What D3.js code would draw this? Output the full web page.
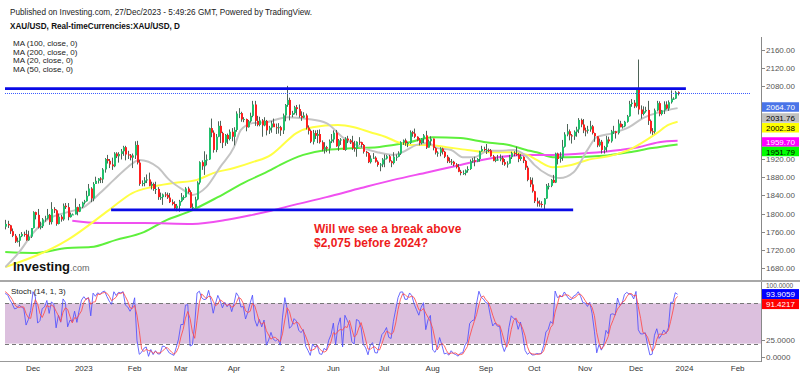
<!DOCTYPE html>
<html><head><meta charset="utf-8">
<script src="https://cdn.jsdelivr.net/npm/d3@7"></script>
<style>html,body{margin:0;background:#fff}svg{display:block}</style>
</head><body><svg id="c" width="800" height="376"></svg>
<script>
// ---------- DATA ----------
const firstDay = "2022-10-24"; // first bar (weekdays follow); bars before 15 Nov are off-chart warm-up for the stochastic
// [open, high, low, close] daily XAU/USD
const candles = [
[1656,1675,1638,1649],[1649,1659,1640,1653],[1653,1671,1651,1665],[1665,1670,1656,1663],[1663,1664,1640,1645],
[1645,1651,1626,1633],[1633,1655,1633,1647],[1647,1669,1635,1636],[1636,1638,1616,1630],[1630,1682,1628,1681],
[1681,1683,1664,1676],[1676,1717,1671,1712],[1712,1723,1700,1706],[1706,1757,1702,1755],[1755,1770,1742,1771],
[1771,1776,1754,1771],[1771,1786,1765,1777],[1777,1784,1768,1774],[1774,1775,1755,1761],[1761,1767,1748,1751],
[1751,1755,1735,1738],[1738,1747,1736,1740],[1740,1755,1727,1750],[1750,1759,1748,1755],[1755,1760,1749,1754],
[1754,1764,1740,1741],[1741,1762,1740,1749],[1749,1768,1746,1768],
// Dec 2022
[1768,1805,1767,1803],[1803,1804,1787,1797],[1797,1810,1767,1769],[1769,1782,1765,1772],[1772,1790,1768,1787],
[1787,1795,1782,1789],[1789,1810,1787,1797],[1797,1799,1775,1781],[1781,1825,1776,1810],[1810,1814,1801,1807],
[1807,1809,1773,1777],[1777,1800,1776,1793],[1793,1797,1782,1787],[1787,1822,1784,1817],[1817,1823,1810,1814],
[1814,1823,1785,1792],[1792,1802,1791,1798],[1798,1800,1797,1798],[1798,1833,1798,1814],[1814,1815,1796,1804],
[1804,1821,1803,1815],[1815,1826,1812,1824],
// Jan 2023
[1824,1830,1820,1827],[1827,1850,1826,1839],[1839,1865,1838,1855],[1855,1858,1825,1833],[1833,1869,1827,1865],
[1865,1881,1865,1872],[1872,1878,1866,1877],[1877,1880,1867,1875],[1875,1900,1867,1897],[1897,1922,1890,1920],
[1920,1929,1910,1916],[1916,1920,1900,1908],[1908,1923,1896,1904],[1904,1935,1902,1932],[1932,1935,1922,1926],
[1926,1935,1912,1931],[1931,1942,1919,1937],[1937,1949,1927,1946],[1946,1949,1917,1930],[1930,1938,1920,1928],
[1928,1931,1917,1923],[1923,1932,1900,1928],
// Feb 2023
[1928,1959,1920,1951],[1951,1960,1908,1912],[1912,1918,1861,1865],[1865,1873,1860,1867],[1867,1880,1860,1873],
[1873,1886,1867,1875],[1875,1890,1860,1861],[1861,1870,1853,1865],[1865,1868,1850,1854],[1854,1870,1843,1854],
[1854,1858,1830,1836],[1836,1846,1830,1836],[1836,1844,1819,1842],[1842,1847,1836,1841],[1841,1846,1832,1835],
[1835,1845,1823,1825],[1825,1831,1818,1821],[1821,1827,1809,1811],[1811,1821,1805,1817],[1817,1830,1804,1827],
// Mar 2023
[1827,1845,1825,1836],[1836,1840,1830,1836],[1836,1858,1835,1855],[1855,1859,1844,1847],[1847,1851,1812,1813],
[1813,1822,1810,1814],[1814,1837,1813,1831],[1831,1871,1829,1868],[1868,1915,1864,1913],[1913,1917,1896,1904],
[1904,1937,1885,1918],[1918,1930,1906,1919],[1919,1989,1918,1988],[1988,2009,1968,1978],[1978,1983,1934,1940],
[1940,1975,1935,1969],[1969,2003,1968,1993],[1993,2004,1955,1977],[1977,1980,1944,1956],[1956,1975,1949,1973],
[1973,1976,1953,1964],[1964,1985,1961,1980],[1980,1988,1959,1969],
// Apr 2023
[1969,1990,1950,1984],[1984,2025,1980,2020],[2020,2032,2010,2021],[2021,2024,2002,2007],[2007,2012,2001,2008],
[2008,2009,1981,1990],[1990,2006,1989,2003],[2003,2022,2000,2015],[2015,2048,2012,2040],[2040,2048,1993,2004],
[2004,2015,1992,1995],[1995,2013,1992,2005],[2005,2008,1969,1994],[1994,2012,1992,2004],[2004,2006,1972,1983],
[1983,1993,1975,1989],[1989,2004,1978,1998],[1998,2009,1991,1990],[1990,1998,1975,1988],[1988,1999,1976,1990],
// May 2023
[1990,1993,1971,1983],[1983,2020,1975,2016],[2016,2041,2003,2039],[2039,2081,2035,2050],[2050,2055,2005,2017],
[2017,2026,2012,2021],[2021,2037,2018,2034],[2034,2039,2016,2030],[2030,2040,2011,2015],[2015,2025,2004,2011],
[2011,2023,2010,2016],[2016,2020,1985,1989],[1989,1994,1974,1982],[1982,1985,1955,1958],[1958,1984,1952,1977],
[1977,1983,1964,1971],[1971,1984,1955,1975],[1975,1985,1954,1957],[1957,1961,1937,1941],[1941,1957,1932,1946],
[1946,1949,1935,1943],[1943,1963,1932,1959],[1959,1975,1955,1963],
// Jun 2023
[1963,1983,1956,1978],[1978,1984,1947,1948],[1948,1964,1938,1961],[1961,1966,1951,1963],[1963,1964,1940,1940],
[1940,1968,1938,1965],[1965,1971,1955,1961],[1961,1964,1953,1957],[1957,1971,1940,1944],[1944,1960,1936,1942],
[1942,1959,1925,1958],[1958,1968,1951,1957],[1957,1958,1945,1951],[1951,1953,1932,1936],[1936,1938,1925,1933],
[1933,1935,1911,1913],[1913,1928,1910,1921],[1921,1933,1920,1923],[1923,1926,1912,1914],[1914,1917,1903,1907],
[1907,1911,1893,1908],[1908,1922,1902,1919],
// Jul 2023
[1919,1930,1902,1921],[1921,1929,1919,1926],[1926,1929,1912,1915],[1915,1917,1902,1911],[1911,1935,1908,1925],
[1925,1930,1916,1925],[1925,1937,1924,1932],[1932,1959,1929,1957],[1957,1963,1951,1961],[1961,1965,1949,1955],
[1955,1958,1946,1955],[1955,1983,1953,1979],[1979,1982,1969,1976],[1976,1987,1966,1969],[1969,1970,1959,1962],
[1962,1966,1950,1955],[1955,1966,1952,1965],[1965,1975,1955,1972],[1972,1982,1942,1945],[1945,1963,1945,1959],
[1959,1970,1950,1965],
// Aug 2023
[1965,1965,1939,1944],[1944,1946,1930,1934],[1934,1937,1925,1934],[1934,1946,1926,1943],[1943,1945,1930,1936],
[1936,1938,1922,1925],[1925,1929,1911,1915],[1915,1923,1911,1913],[1913,1920,1907,1914],[1914,1916,1904,1908],
[1908,1911,1899,1902],[1902,1909,1891,1892],[1892,1896,1884,1889],[1889,1895,1885,1889],[1889,1897,1884,1895],
[1895,1904,1890,1898],[1898,1919,1896,1915],[1915,1922,1912,1917],[1917,1925,1904,1914],[1914,1922,1913,1920],
[1920,1938,1914,1937],[1937,1949,1936,1942],[1942,1947,1937,1940],
// Sep 2023
[1940,1953,1931,1940],[1940,1943,1935,1939],[1939,1942,1925,1926],[1926,1929,1915,1916],[1916,1924,1913,1919],
[1919,1929,1916,1919],[1919,1930,1915,1922],[1922,1927,1907,1913],[1913,1920,1905,1908],[1908,1915,1901,1910],
[1910,1929,1910,1924],[1924,1936,1920,1933],[1933,1937,1926,1931],[1931,1947,1927,1930],[1930,1933,1913,1920],
[1920,1931,1916,1925],[1925,1926,1911,1916],[1916,1918,1896,1901],[1901,1905,1871,1874],[1874,1880,1858,1864],
[1864,1879,1846,1849],
// Oct 2023
[1849,1850,1823,1827],[1827,1835,1815,1822],[1822,1829,1815,1821],[1821,1827,1813,1820],[1820,1834,1810,1833],
[1833,1865,1832,1861],[1861,1867,1853,1861],[1861,1876,1858,1874],[1874,1885,1867,1868],[1868,1934,1867,1932],
[1932,1934,1908,1920],[1920,1935,1912,1923],[1923,1962,1916,1947],[1947,1979,1945,1974],[1974,1997,1970,1981],
[1981,1985,1961,1972],[1972,1975,1954,1970],[1970,1983,1962,1980],[1980,1991,1969,1985],[1985,2010,1977,2006],
[2006,2009,1990,1996],[1996,2008,1977,1983],
// Nov 2023
[1983,1989,1970,1982],[1982,1993,1976,1985],[1985,2004,1980,1992],[1992,1995,1974,1977],[1977,1978,1958,1970],
[1970,1970,1946,1950],[1950,1965,1947,1958],[1958,1962,1932,1940],[1940,1949,1932,1946],[1946,1971,1936,1963],
[1963,1969,1954,1959],[1959,1984,1956,1981],[1981,1993,1975,1981],[1981,1982,1965,1977],[1977,2007,1974,1998],
[1998,2004,1990,1990],[1990,1997,1987,1992],[1992,2004,1990,2002],[2002,2017,2000,2014],[2014,2048,2013,2041],
[2041,2052,2035,2044],[2044,2050,2032,2036],
// Dec 2023
[2036,2075,2033,2072],[2072,2139,2018,2029],[2029,2038,2009,2019],[2019,2036,2016,2025],[2025,2035,2022,2028],
[2028,2048,1995,2004],[2004,2007,1976,1981],[1981,1988,1973,1980],[1980,2031,1976,2027],[2027,2048,2025,2043],
[2043,2047,2014,2019],[2019,2028,2016,2027],[2027,2047,2019,2040],[2040,2047,2029,2031],[2031,2049,2026,2045],
[2045,2071,2042,2053],[2053,2056,2050,2053],[2053,2070,2052,2067],[2067,2069,2060,2064.7]
];
// moving averages: [trading day (0 = 1 Dec 2022), value]
const ma20 = [[-12,1682],[-6,1715],[0,1757],[6,1786],[15,1803],[22,1814],[29,1845],[35,1874],[41,1902],[46,1918],[54,1902],[59,1874],[65,1852],[69,1841],[75,1858],[81,1902],[87,1946],[90,1984],[95,1999],[101,2001],[110,2012],[119,2008],[127,1999],[134,1968],[142,1946],[149,1935],[156,1929],[160,1935],[166,1951],[171,1955],[175,1944],[181,1940],[186,1924],[191,1924],[197,1938],[202,1938],[208,1940],[214,1924],[217,1907],[223,1885],[228,1878],[234,1891],[240,1940],[244,1968],[251,1977],[258,1990],[264,2010],[271,2023],[279,2032]];
const ma50 = [[-12,1682],[15,1742],[33,1808],[43,1845],[51,1858],[61,1867],[71,1874],[78,1889],[87,1900],[95,1913],[103,1929],[107,1946],[114,1977],[121,1990],[132,1995],[139,1990],[146,1979],[153,1968],[158,1957],[163,1951],[171,1951],[179,1946],[188,1940],[197,1935],[207,1935],[214,1929],[218,1918],[225,1902],[233,1907],[240,1918],[250,1927],[258,1940],[264,1957],[270,1977],[275,1995],[279,2002]];
const ma100 = [[-12,1715],[0,1713],[15,1724],[25,1726],[36,1742],[48,1759],[58,1786],[67,1803],[80,1836],[91,1867],[103,1896],[107,1907],[117,1929],[127,1940],[139,1944],[149,1946],[156,1951],[163,1957],[173,1968],[185,1966],[196,1957],[206,1951],[215,1938],[218,1935],[225,1924],[232,1924],[247,1927],[258,1935],[268,1944],[279,1952]];
const ma200 = [[17,1784],[29,1779],[48,1779],[69,1777],[84,1786],[95,1797],[103,1806],[113,1819],[127,1836],[142,1856],[156,1874],[171,1891],[185,1907],[199,1922],[214,1929],[225,1929],[240,1933],[254,1940],[262,1946],[271,1957],[279,1960]];
const maLegend = ["MA (100, close, 0)","MA (200, close, 0)","MA (20, close, 0)","MA (50, close, 0)"];
// drawn horizontal lines: [price, from trading day, to trading day]
const hLines = [[2075,-13,282.6],[1808,33.8,233.8]];
const lastPrice = 2064.7;
const priceTicks = [2160,2120,2080,1920,1880,1840,1800,1760,1720,1680];
const priceTags = [["2064.70","#4a74e8","#fff"],["2031.76","#c0c0c0","#000"],["2002.38","#ffff00","#000"],["1959.70","#ff00ff","#fff"],["1951.79","#00ff00","#000"]];
const stochTicks = [100,25,0];
const stochTags = [["93.9059","#0000ff","#fff"],["91.4217","#ff0000","#fff"]];
const stochBand = [20,80];
const timeTicks = [["2022-12-01","Dec"],["2023-01-02","2023"],["2023-02-01","Feb"],["2023-03-01","Mar"],["2023-04-03","Apr"],["2023-05-02","2"],["2023-06-01","Jun"],["2023-07-03","Jul"],["2023-08-01","Aug"],["2023-09-01","Sep"],["2023-10-02","Oct"],["2023-11-01","Nov"],["2023-12-01","Dec"],["2024-01-01","2024"],["2024-02-01","Feb"]];
const header = "Published on Investing.com, 27/Dec/2023 - 5:49:26 GMT, Powered by TradingView.";
const title = "XAU/USD, Real-timeCurrencies:XAU/USD, D";
const note = ["Will we see a break above","$2,075 before 2024?"];

// ---------- CHART ----------
const FONT = '"Liberation Sans", Arial, sans-serif';
const svg = d3.select("#c").style("font-family", FONT);
const parse = d3.timeParse("%Y-%m-%d");
const base = parse("2022-12-01");
const isWd = d => d.getDay() > 0 && d.getDay() < 6;
function tday(date) {
  if (date >= base) return d3.timeDay.range(base, date).filter(isWd).length;
  return -d3.timeDay.range(date, base).filter(isWd).length;
}
const dates = [];
{ let d = parse(firstDay); while (dates.length < candles.length) { if (isWd(d)) dates.push(d); d = d3.timeDay.offset(d, 1); } }
const bars = candles.map((c, i) => ({ t: tday(dates[i]), o: c[0], h: c[1], l: c[2], c: c[3] }));

const L = 5, R = 761;
const x = d3.scaleLinear().domain([0, 261]).range([33, 636]);
const y = d3.scaleLinear().domain([1680, 2160]).range([268, 50]);
const ys = d3.scaleLinear().domain([0, 100]).range([357, 290]);
// the axis tags sit on a compressed stack beside the price scale
const yTag = d3.scaleLinear().domain([2064.7, 1959.7]).range([107, 142]);

const defs = svg.append("defs");
defs.append("clipPath").attr("id", "cp").append("rect").attr("x", L).attr("y", 36).attr("width", R - L).attr("height", 244);
defs.append("clipPath").attr("id", "cs").append("rect").attr("x", L).attr("y", 283).attr("width", R - L).attr("height", 77);

// header texts
svg.append("text").attr("x", 10).attr("y", 15).attr("font-size", 9).attr("fill", "#222").attr("textLength", 302).attr("lengthAdjust", "spacingAndGlyphs").text(header);
svg.append("text").attr("x", 10).attr("y", 29).attr("font-size", 8.8).attr("font-weight", "bold").attr("fill", "#111").attr("textLength", 170).attr("lengthAdjust", "spacingAndGlyphs").text(title);
svg.append("g").selectAll("text").data(maLegend).join("text")
  .attr("x", 13).attr("y", (d, i) => 46 + i * 8.7).attr("font-size", 8).attr("fill", "#222").text(d => d);

// price panel
const gp = svg.append("g").attr("clip-path", "url(#cp)");
const maLine = d3.line().x(d => x(d[0])).y(d => y(d[1])).curve(d3.curveMonotoneX);
[[ma100, "#5ef03c"], [ma200, "#f050f0"], [ma50, "#ffff44"], [ma20, "#c4c4c4"]].forEach(([a, col]) =>
  gp.append("path").attr("d", maLine(a)).attr("fill", "none").attr("stroke", col).attr("stroke-width", 2));

// candles
const cg = gp.append("g");
cg.selectAll("line").data(bars).join("line")
  .attr("x1", d => Math.round(x(d.t)) + 0.5).attr("x2", d => Math.round(x(d.t)) + 0.5)
  .attr("y1", d => y(d.h)).attr("y2", d => y(d.l)).attr("stroke", "#4e6357").attr("stroke-width", 1);
cg.selectAll("rect").data(bars).join("rect")
  .attr("x", d => Math.round(x(d.t)))
  .attr("width", 2)
  .attr("y", d => y(Math.max(d.o, d.c)))
  .attr("height", d => Math.max(1, Math.abs(y(d.o) - y(d.c))))
  .attr("fill", d => d.c >= d.o ? "#20c06c" : "#ff1e1e");

// horizontal drawings
gp.selectAll("line.h").data(hLines).join("line").attr("class", "h")
  .attr("x1", d => x(d[1])).attr("x2", d => x(d[2])).attr("y1", d => y(d[0])).attr("y2", d => y(d[0]))
  .attr("stroke", "#0a0ae6").attr("stroke-width", 2.6);
svg.append("line").attr("x1", L).attr("x2", 750).attr("y1", Math.round(y(lastPrice)) + 0.5).attr("y2", Math.round(y(lastPrice)) + 0.5)
  .attr("stroke", "#3b5cff").attr("stroke-width", 1).attr("stroke-dasharray", "1,1");

// annotation
svg.append("g").selectAll("text").data(note).join("text")
  .attr("x", 314).attr("y", (d, i) => 232.5 + i * 14).attr("font-size", 12).attr("font-weight", "bold").attr("fill", "#ee1c1c").text(d => d);

// logo
const logo = svg.append("text").attr("x", 13).attr("y", 271).attr("font-size", 13).attr("font-weight", "bold").attr("fill", "#111");
logo.append("tspan").text("Investing");
logo.append("tspan").attr("font-size", 9).attr("font-weight", "normal").attr("fill", "#666").text(".com");

// axes frame
svg.append("line").attr("x1", R + 0.5).attr("x2", R + 0.5).attr("y1", 37).attr("y2", 362).attr("stroke", "#888");
svg.append("line").attr("x1", 0).attr("x2", 800).attr("y1", 281).attr("y2", 281).attr("stroke", "#a8a8a8").attr("stroke-width", 2);
svg.append("line").attr("x1", 0).attr("x2", R).attr("y1", 361.5).attr("y2", 361.5).attr("stroke", "#999");

// price axis
const pa = svg.append("g");
pa.selectAll("line").data(priceTicks).join("line").attr("x1", R).attr("x2", R + 4).attr("y1", d => Math.round(y(d)) + 0.5).attr("y2", d => Math.round(y(d)) + 0.5).attr("stroke", "#888");
pa.selectAll("text").data(priceTicks).join("text").attr("x", 766).attr("y", d => y(d) + 3).attr("font-size", 8).attr("fill", "#555").text(d => d3.format(".2f")(d));

function tags(g, list, scale, h) {
  let prev = -1e9;
  list.forEach(([txt, bg, fg]) => {
    let cy = Math.max(scale(+txt), prev + h);
    prev = cy;
    g.append("rect").attr("x", R + 1).attr("y", cy - h / 2).attr("width", 37).attr("height", h).attr("fill", bg);
    g.append("text").attr("x", 766).attr("y", cy + 3).attr("font-size", 8).attr("fill", fg).text(txt);
  });
}
tags(svg.append("g"), priceTags, yTag, 9.5);

// time axis
const ta = svg.append("g");
ta.selectAll("text").data(timeTicks).join("text").attr("x", d => x(tday(parse(d[0])))).attr("y", 371)
  .attr("text-anchor", "middle").attr("font-size", 8).attr("fill", "#333").text(d => d[1]);

// stochastic (14,1,3) computed from the candles
const K = bars.map((b, i) => {
  if (i < 13) return null;
  const w = bars.slice(i - 13, i + 1), hh = d3.max(w, d => d.h), ll = d3.min(w, d => d.l);
  return 100 * (b.c - ll) / (hh - ll);
});
const D = K.map((k, i) => (i < 15 ? null : (K[i] + K[i - 1] + K[i - 2]) / 3));
const gs = svg.append("g").attr("clip-path", "url(#cs)");
gs.append("rect").attr("x", L).attr("width", R - L).attr("y", ys(stochBand[1])).attr("height", ys(stochBand[0]) - ys(stochBand[1])).attr("fill", "#dcc0de");
gs.selectAll("line").data(stochBand).join("line").attr("x1", L).attr("x2", R).attr("y1", d => Math.round(ys(d)) + 0.5).attr("y2", d => Math.round(ys(d)) + 0.5)
  .attr("stroke", "#777").attr("stroke-dasharray", "4,3");
const sLine = arr => d3.line().defined((d, i) => arr[i] != null).x((d, i) => x(bars[i].t)).y((d, i) => ys(arr[i]))(bars);
gs.append("path").attr("d", sLine(K)).attr("fill", "none").attr("stroke", "#5050ff").attr("stroke-opacity", 0.85).attr("stroke-width", 1);
gs.append("path").attr("d", sLine(D)).attr("fill", "none").attr("stroke", "#ff4a4a").attr("stroke-opacity", 0.85).attr("stroke-width", 1);
svg.append("text").attr("x", 11).attr("y", 294).attr("font-size", 8).attr("fill", "#222").text("Stoch (14, 1, 3)");

const sa = svg.append("g");
sa.selectAll("line").data(stochTicks).join("line").attr("x1", R).attr("x2", R + 4).attr("y1", d => Math.round(ys(d)) + 0.5).attr("y2", d => Math.round(ys(d)) + 0.5).attr("stroke", "#888");
sa.selectAll("text").data(stochTicks).join("text").attr("x", 766).attr("y", d => ys(d) + (d > 90 ? -2 : 3)).attr("font-size", d => d > 90 ? 6.5 : 8).attr("fill", "#555").text(d => d3.format(".4f")(d));
tags(svg.append("g"), stochTags, ys, 10);
</script></body></html>
